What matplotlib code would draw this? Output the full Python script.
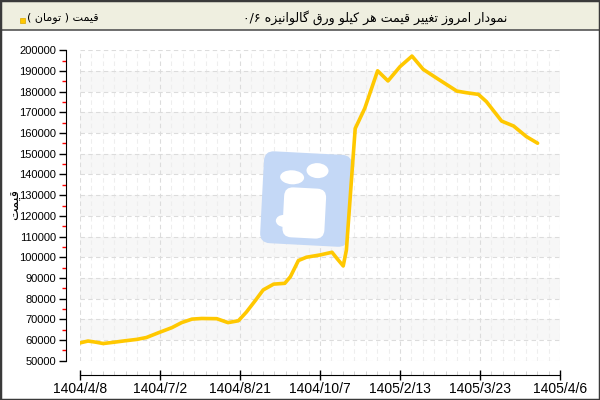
import numpy as np
import matplotlib
matplotlib.use("Agg")
import matplotlib.pyplot as plt
from matplotlib.patches import Rectangle, FancyBboxPatch, Ellipse
from matplotlib.ticker import MultipleLocator
import matplotlib.transforms as mtransforms

plt.rcParams['font.family'] = ['Liberation Sans', 'DejaVu Sans']

# chart data (x = position along the date axis, in tick units)
tick_labels = ["1404/4/8", "1404/7/2", "1404/8/21", "1404/10/7",
               "1405/2/13", "1405/3/23", "1405/4/6"]
pos = [0.00, 0.10, 0.19, 0.29, 0.44, 0.56, 0.71, 0.83, 0.98, 1.15,
       1.27, 1.40, 1.52, 1.71, 1.85, 1.98, 2.08, 2.19, 2.29, 2.42,
       2.56, 2.63, 2.73, 2.83, 3.00, 3.15, 3.21, 3.29, 3.33, 3.375,
       3.44, 3.56, 3.72, 3.85, 4.00, 4.15, 4.29, 4.46, 4.71, 4.83,
       4.98, 5.08, 5.27, 5.42, 5.58, 5.72]
price = [58600, 59500, 59000, 58300, 59000, 59600, 60300, 61200, 63500, 66000,
         68400, 70100, 70400, 70300, 68400, 69300, 73500, 79000, 84200, 87000,
         87400, 90600, 98400, 100000, 101100, 102400, 99500, 95800, 103500, 127700,
         162200, 172000, 190100, 185200, 192100, 197200, 190800, 186500, 180300, 179500,
         178700, 175200, 165800, 163400, 158300, 155100]

title = "نمودار امروز تغییر قیمت هر کیلو ورق گالوانیزه ۰/۶"
legend_label = "قیمت ( تومان )"
y_label = "قیمت"

# minimal arabic shaping: (isolated, final, initial, medial)
FORMS = {
    'ا': ('\uFE8D', '\uFE8E', None, None),
    'د': ('\uFEA9', '\uFEAA', None, None),
    'ر': ('\uFEAD', '\uFEAE', None, None),
    'ز': ('\uFEAF', '\uFEB0', None, None),
    'و': ('\uFEED', '\uFEEE', None, None),
    'ن': ('\uFEE5', '\uFEE6', '\uFEE7', '\uFEE8'),
    'م': ('\uFEE1', '\uFEE2', '\uFEE3', '\uFEE4'),
    'ت': ('\uFE95', '\uFE96', '\uFE97', '\uFE98'),
    'غ': ('\uFECD', '\uFECE', '\uFECF', '\uFED0'),
    'ق': ('\uFED5', '\uFED6', '\uFED7', '\uFED8'),
    'ه': ('\uFEE9', '\uFEEA', '\uFEEB', '\uFEEC'),
    'ل': ('\uFEDD', '\uFEDE', '\uFEDF', '\uFEE0'),
    'ی': ('\uFBFC', '\uFBFD', '\uFBFE', '\uFBFF'),
    'ک': ('\uFB8E', '\uFB8F', '\uFB90', '\uFB91'),
    'گ': ('\uFB92', '\uFB93', '\uFB94', '\uFB95'),
}
MIRROR = {'(': ')', ')': '('}


def shape(text):
    out = []
    for i, ch in enumerate(text):
        if ch not in FORMS:
            out.append(ch)
            continue
        f = FORMS[ch]
        prev = text[i - 1] if i > 0 else ''
        nxt = text[i + 1] if i + 1 < len(text) else ''
        pj = prev in FORMS and FORMS[prev][2] is not None
        nj = f[2] is not None and nxt in FORMS
        if pj and nj:
            out.append(f[3])
        elif pj:
            out.append(f[1])
        elif nj:
            out.append(f[2])
        else:
            out.append(f[0])
    return ''.join(out)


def visual(text):
    s = shape(text)
    runs = []
    for ch in s:
        ltr = ch.isdigit() or ch == '/'
        if runs and runs[-1][0] == ltr:
            runs[-1][1].append(ch)
        else:
            runs.append([ltr, [ch]])
    res = []
    for ltr, chars in reversed(runs):
        if ltr:
            res.append(''.join(chars))
        else:
            res.append(''.join(MIRROR.get(c, c) for c in reversed(chars)))
    return ''.join(res)


fig = plt.figure(figsize=(6, 4), dpi=100)
W, H = 600, 400

# header band and frame
fig.patches.append(Rectangle((0, 1 - 30 / H), 1, 30 / H, transform=fig.transFigure,
                             facecolor='#efefe0', edgecolor='none', zorder=0))
fig.lines.append(plt.Line2D([0, 1], [1 - 30 / H] * 2, transform=fig.transFigure,
                            color='#555555', lw=1.2))
fig.patches.append(Rectangle((0, 0), 1, 1, transform=fig.transFigure, fill=False,
                             edgecolor='#3a3a3a', linewidth=2.5, zorder=5))
fig.patches.append(Rectangle((20 / W, 1 - 23 / H), 5 / W, 5 / H, transform=fig.transFigure,
                             facecolor='#FFC800', edgecolor='#d9a800', lw=0.5))
fig.text(27 / W, 1 - 18 / H, visual(legend_label), fontsize=8, va='center', ha='left',
         family=['DejaVu Sans'])
fig.text(507 / W, 1 - 18 / H, visual(title), fontsize=9, va='center', ha='right',
         family=['DejaVu Sans'])

ax = fig.add_axes([80 / W, 1 - 360.7 / H, 480 / W, (360.7 - 50.3) / H])
ax.set_xlim(0, 6)
ax.set_ylim(50000, 200000)

for lo in range(60000, 200000, 20000):
    ax.axhspan(lo, lo + 10000, color='#f7f7f7', zorder=0, lw=0)

ax.set_xticks(range(7))
ax.set_xticklabels(tick_labels, fontsize=7.5)
ax.xaxis.set_minor_locator(MultipleLocator(1 / 7))
ax.yaxis.set_major_locator(MultipleLocator(10000))
ax.yaxis.set_minor_locator(MultipleLocator(5000))
ax.tick_params(axis='y', labelsize=8, length=5, width=1, pad=2)
ax.tick_params(axis='y', which='minor', length=3, color='red', width=1)
ax.tick_params(axis='x', direction='inout', length=7, width=1, pad=2)
ax.tick_params(axis='x', which='minor', direction='in', length=3, color='#cccccc')

ax.grid(True, which='major', color='#dcdcdc', linestyle=(0, (4, 3)), lw=0.8, zorder=1)
ax.grid(True, which='minor', axis='x', color='#eeeeee', linestyle=(0, (4, 3)), lw=0.8, zorder=1)
ax.set_axisbelow(True)

for side in ('top', 'right'):
    ax.spines[side].set_visible(False)
ax.spines['left'].set_position(('outward', 10))
ax.spines['bottom'].set_position(('outward', 10))

ax.set_ylabel(visual(y_label), fontsize=9.5, family=['DejaVu Sans'])
ax.yaxis.set_label_coords((22 - 80) / 480, (360.7 - 205) / 310.4)

# watermark logo, drawn in pixel coordinates (y down)
tr = mtransforms.Affine2D().scale(1 / W, -1 / H).translate(0, 1) + fig.transFigure
tr = mtransforms.Affine2D().rotate_deg_around(305, 199, 3) + tr
fig.patches.append(FancyBboxPatch((262, 153), 88, 92, boxstyle="round,pad=0,rounding_size=10",
                                  transform=tr, facecolor='#c4d8f6', edgecolor='none', zorder=2))
fig.patches.append(Ellipse((291, 178), 24, 14, transform=tr, facecolor='white', edgecolor='none', zorder=2))
fig.patches.append(Ellipse((316, 170), 22, 15, transform=tr, facecolor='white', edgecolor='none', zorder=2))
fig.patches.append(FancyBboxPatch((284, 188), 42, 50, boxstyle="round,pad=0,rounding_size=9",
                                  transform=tr, facecolor='white', edgecolor='none', zorder=2))
fig.patches.append(Ellipse((285, 222), 16, 12, transform=tr, facecolor='white', edgecolor='none', zorder=2))

line_ax = fig.add_axes(ax.get_position(), sharex=ax, sharey=ax, zorder=3)
line_ax.axis('off')
line_ax.patch.set_visible(False)
line_ax.plot(pos, price, color='#FFC800', lw=2.6, solid_joinstyle='round', solid_capstyle='round')

fig.savefig("out.png", dpi=100)
